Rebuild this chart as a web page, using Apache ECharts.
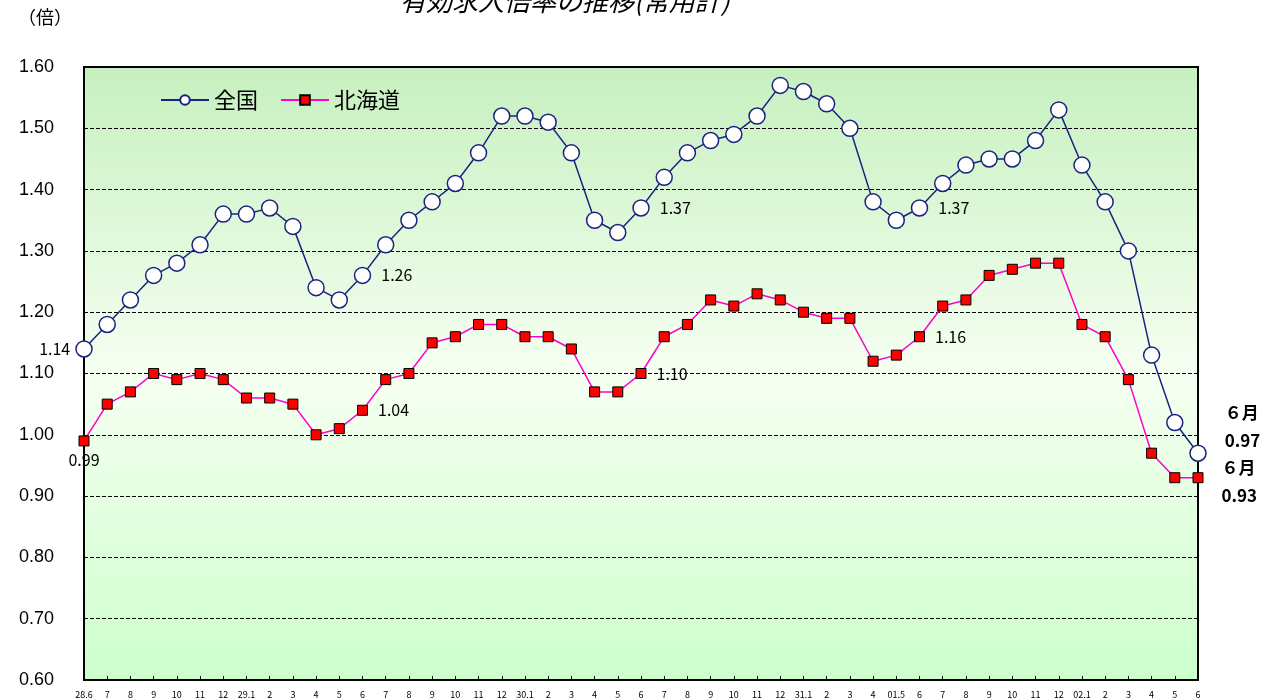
<!DOCTYPE html>
<html>
<head>
<meta charset="utf-8">
<script src="https://cdn.jsdelivr.net/npm/echarts@6/dist/echarts.min.js"></script>
<style>
  html, body { margin: 0; padding: 0; background: #fff; }
  #chart { width: 1274px; height: 699px; }
</style>
</head>
<body>
<div id="chart"></div>
<script>
var months = ['28.6','7','8','9','10','11','12',
  '29.1','2','3','4','5','6','7','8','9','10','11','12',
  '30.1','2','3','4','5','6','7','8','9','10','11','12',
  '31.1','2','3','4',
  '01.5','6','7','8','9','10','11','12',
  '02.1','2','3','4','5','6'];
var zenkoku = [1.14,1.18,1.22,1.26,1.28,1.31,1.36,
  1.36,1.37,1.34,1.24,1.22,1.26,1.31,1.35,1.38,1.41,1.46,1.52,
  1.52,1.51,1.46,1.35,1.33,1.37,1.42,1.46,1.48,1.49,1.52,1.57,
  1.56,1.54,1.50,1.38,
  1.35,1.37,1.41,1.44,1.45,1.45,1.48,1.53,
  1.44,1.38,1.30,1.13,1.02,0.97];
var hokkaido = [0.99,1.05,1.07,1.10,1.09,1.10,1.09,
  1.06,1.06,1.05,1.00,1.01,1.04,1.09,1.10,1.15,1.16,1.18,1.18,
  1.16,1.16,1.14,1.07,1.07,1.10,1.16,1.18,1.22,1.21,1.23,1.22,
  1.20,1.19,1.19,1.12,
  1.13,1.16,1.21,1.22,1.26,1.27,1.28,1.28,
  1.18,1.16,1.09,0.97,0.93,0.93];
// 数値ラベルを出す位置
var zLabelIdx = [12, 24, 36];
var hLabelIdx = [12, 24, 36];

var font = '"Noto Sans CJK JP", sans-serif';
var last = months.length - 1;

function buildData(values, idxs, firstPos, endOffset) {
  return values.map(function(v, i) {
    if (i === 0) {
      return { value: v, label: { show: true, position: firstPos, formatter: v.toFixed(2) } };
    }
    if (idxs.indexOf(i) >= 0) {
      return { value: v, label: { show: true, position: 'right', distance: 10, formatter: v.toFixed(2) } };
    }
    if (i === last) {
      return { value: v, label: { show: true, position: 'right', distance: 18, fontWeight: 'bold',
        lineHeight: 28, fontSize: 17, formatter: '６月\n' + v.toFixed(2), offset: endOffset } };
    }
    return v;
  });
}

var chart = echarts.init(document.getElementById('chart'));
chart.setOption({
  animation: false,
  textStyle: { fontFamily: font },
  graphic: [
    { type: 'text', left: 400, top: -12, style: { text: '有効求人倍率の推移(常用計)', fontSize: 26,
      fontStyle: 'italic', fontFamily: font, fill: '#000' } },
    { type: 'text', left: 18, top: 8, style: { text: '（倍）', fontSize: 18, fontFamily: font, fill: '#000' } }
  ],
  legend: {
    left: 155, top: 84, itemWidth: 48, itemHeight: 12, itemGap: 22,
    textStyle: { fontSize: 22, color: '#000', fontFamily: font },
    data: ['全国', '北海道']
  },
  grid: {
    left: 84, right: 76, top: 67, bottom: 19,
    show: true, borderColor: '#000', borderWidth: 2,
    backgroundColor: new echarts.graphic.LinearGradient(0, 0, 0, 1, [
      { offset: 0, color: '#c6f0bf' },
      { offset: 0.5, color: '#f6fff2' },
      { offset: 1, color: '#ccffcc' }
    ])
  },
  xAxis: {
    type: 'category', data: months, boundaryGap: false,
    axisLine: { lineStyle: { color: '#000', width: 2 } },
    axisTick: { show: true, alignWithLabel: true, length: -4, lineStyle: { color: '#000' } },
    axisLabel: { color: '#000', fontSize: 9, interval: 0, margin: 10 }
  },
  yAxis: {
    type: 'value', min: 0.6, max: 1.6, interval: 0.1,
    axisLine: { show: true, lineStyle: { color: '#000', width: 2 } },
    axisLabel: { color: '#000', fontSize: 18, margin: 30, fontFamily: '"Liberation Sans", Arial, sans-serif',
      formatter: function(v) { return v.toFixed(2); } },
    splitLine: { lineStyle: { color: '#000', type: 'dashed', width: 1 } }
  },
  series: [
    {
      name: '全国', type: 'line', data: buildData(zenkoku, zLabelIdx, 'left', [0, -27]),
      symbol: 'circle', symbolSize: 16,
      lineStyle: { color: '#1a237e', width: 1.5 },
      itemStyle: { color: '#fff', borderColor: '#1a237e', borderWidth: 1.5 },
      label: { color: '#000', fontSize: 16, fontFamily: font },
      z: 3
    },
    {
      name: '北海道', type: 'line', data: buildData(hokkaido, hLabelIdx, 'bottom', [0, 4]),
      symbol: 'rect', symbolSize: 10,
      lineStyle: { color: '#ff00cc', width: 1.5 },
      itemStyle: { color: '#ff0000', borderColor: '#000', borderWidth: 1 },
      label: { color: '#000', fontSize: 16, fontFamily: font },
      z: 2
    }
  ]
});
</script>
</body>
</html>
